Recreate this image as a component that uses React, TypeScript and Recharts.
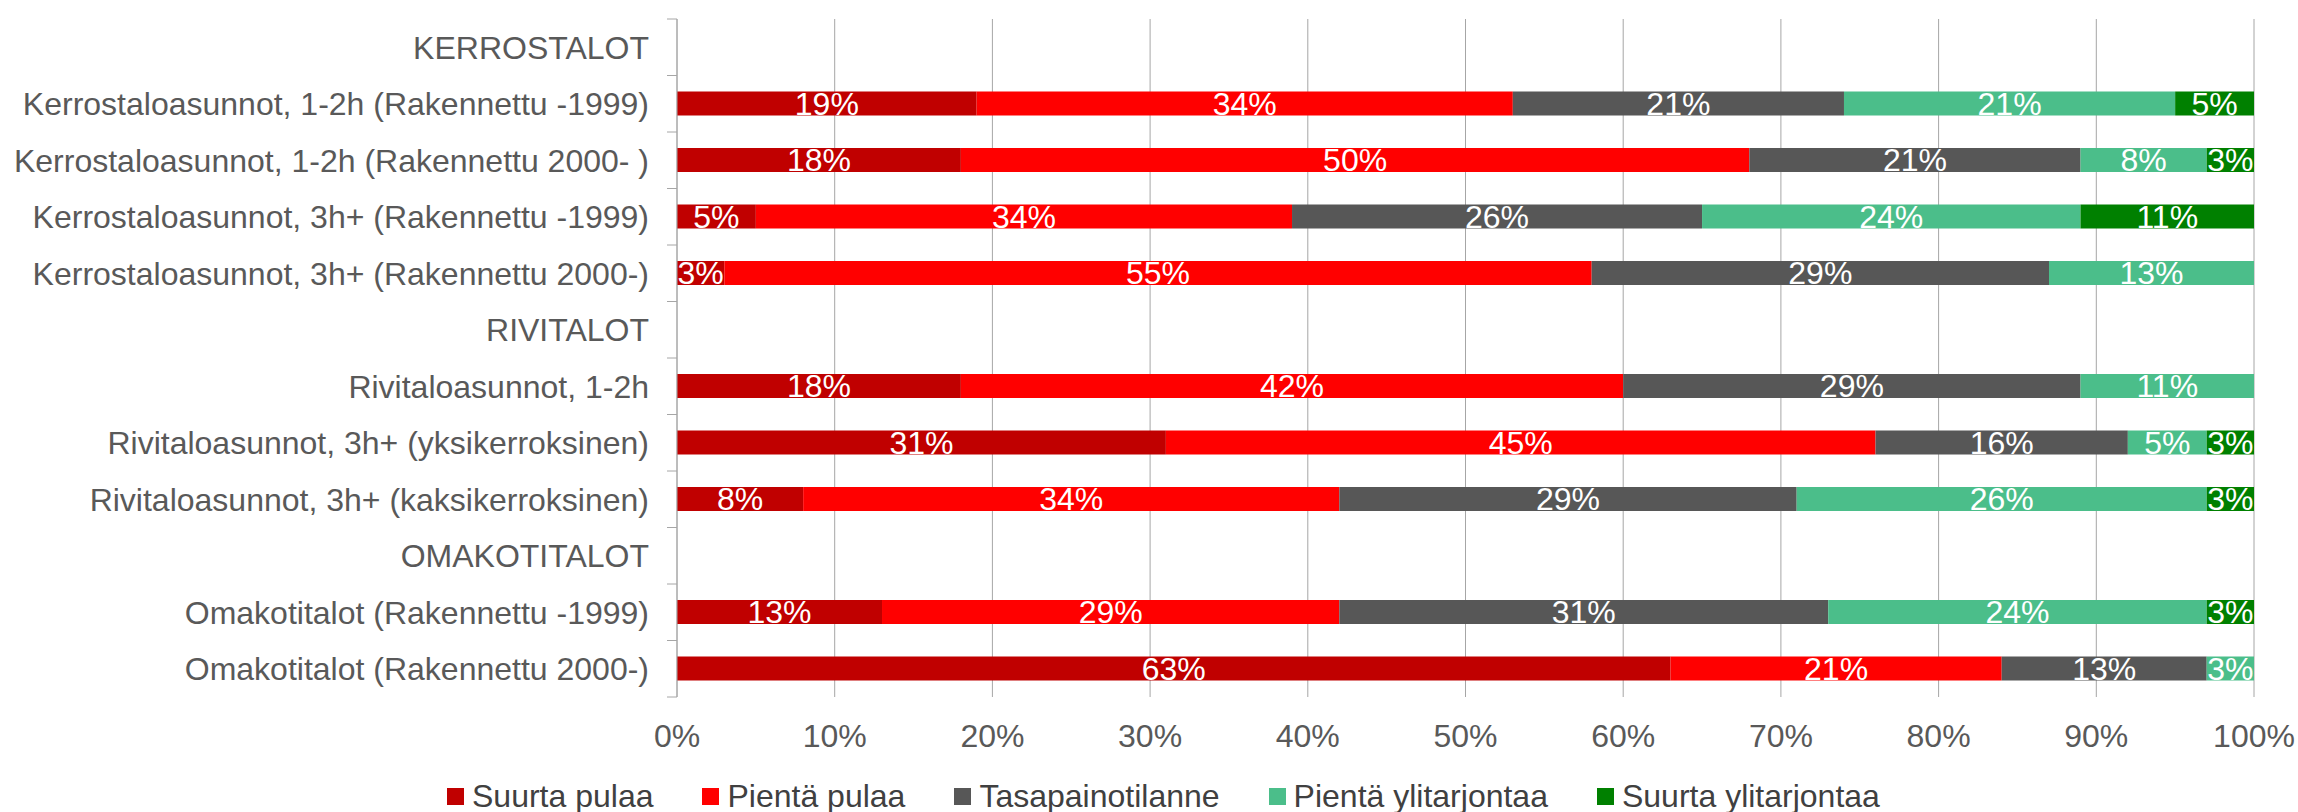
import { BarChart, Bar, XAxis, YAxis, CartesianGrid, LabelList } from "recharts";

const categories = [
  "KERROSTALOT",
  "Kerrostaloasunnot, 1-2h (Rakennettu -1999)",
  "Kerrostaloasunnot, 1-2h (Rakennettu 2000- )",
  "Kerrostaloasunnot, 3h+ (Rakennettu -1999)",
  "Kerrostaloasunnot, 3h+ (Rakennettu 2000-)",
  "RIVITALOT",
  "Rivitaloasunnot, 1-2h",
  "Rivitaloasunnot, 3h+ (yksikerroksinen)",
  "Rivitaloasunnot, 3h+ (kaksikerroksinen)",
  "OMAKOTITALOT",
  "Omakotitalot (Rakennettu -1999)",
  "Omakotitalot (Rakennettu 2000-)",
];

const suurtaPulaa = [null, 19, 18, 5, 3, null, 18, 31, 8, null, 13, 63];
const pientaPulaa = [null, 34, 50, 34, 55, null, 42, 45, 34, null, 29, 21];
const tasapaino = [null, 21, 21, 26, 29, null, 29, 16, 29, null, 31, 13];
const pientaYli = [null, 21, 8, 24, 13, null, 11, 5, 26, null, 24, 3];
const suurtaYli = [null, 5, 3, 11, 0, null, 0, 3, 3, null, 3, 0];

const xTicks = [0, 10, 20, 30, 40, 50, 60, 70, 80, 90, 100];

const series = [
  { key: "s1", name: "Suurta pulaa", color: "#C00000", values: suurtaPulaa },
  { key: "s2", name: "Pientä pulaa", color: "#FF0000", values: pientaPulaa },
  { key: "s3", name: "Tasapainotilanne", color: "#575757", values: tasapaino },
  { key: "s4", name: "Pientä ylitarjontaa", color: "#4BBE8A", values: pientaYli },
  { key: "s5", name: "Suurta ylitarjontaa", color: "#008000", values: suurtaYli },
];

const data = categories.map((name, i) => {
  const row: Record<string, string | number | null> = { name };
  series.forEach((s) => { row[s.key] = s.values[i]; });
  return row;
});

const W = 2298;
const H = 812;
const TOP = 19;
const BOTTOM = 115;
const AXIS_W = 677;
const BAND = (H - TOP - BOTTOM) / categories.length;
const FONT = "'Liberation Sans', Arial, sans-serif";
const FS = 32;

// eslint-disable-next-line @typescript-eslint/no-explicit-any
function CategoryTick({ x, y, payload, index }: any) {
  const axisX = x + 28;
  return (
    <g>
      <text x={x} y={y} dy="0.36em" textAnchor="end" fill="#595959" fontSize={FS}>
        {payload.value}
      </text>
      <line x1={axisX - 10} x2={axisX} y1={y - BAND / 2} y2={y - BAND / 2} stroke="#A6A6A6" />
      {index === categories.length - 1 && (
        <line x1={axisX - 10} x2={axisX} y1={y + BAND / 2} y2={y + BAND / 2} stroke="#A6A6A6" />
      )}
    </g>
  );
}

const pct = (v: unknown) => (v ? `${v}%` : "");

export default function App() {
  return (
    <div style={{ position: "absolute", left: 0, top: 0, width: W, height: H, fontFamily: FONT, background: "#fff" }}>
      <BarChart
        width={W}
        height={H}
        data={data}
        layout="vertical"
        margin={{ top: TOP, right: 44, bottom: 0, left: 0 }}
        barSize={24}
      >
        <CartesianGrid horizontal={false} vertical stroke="#A6A6A6" />
        <XAxis
          type="number"
          domain={[0, 100]}
          ticks={xTicks}
          tickFormatter={(v) => `${v}%`}
          axisLine={false}
          tickLine={false}
          tickSize={0}
          tickMargin={27}
          height={BOTTOM}
          tick={{ fill: "#595959", fontSize: FS }}
          interval={0}
        />
        <YAxis
          type="category"
          dataKey="name"
          width={AXIS_W}
          axisLine={{ stroke: "#A6A6A6" }}
          tickLine={false}
          tickSize={0}
          tickMargin={28}
          tick={<CategoryTick />}
          interval={0}
        />
        {series.map((s) => (
          <Bar key={s.key} dataKey={s.key} name={s.name} stackId="a" fill={s.color} isAnimationActive={false}>
            <LabelList dataKey={s.key} position="center" formatter={pct} fill="#fff" fontSize={FS} />
          </Bar>
        ))}
      </BarChart>
      <div
        style={{
          position: "absolute",
          left: 447,
          top: 778,
          display: "flex",
          gap: 49,
          fontSize: FS,
          color: "#404040",
          lineHeight: "36px",
          whiteSpace: "nowrap",
        }}
      >
        {series.map((s) => (
          <div key={s.key} style={{ display: "flex", alignItems: "center", gap: 8 }}>
            <div style={{ width: 17, height: 17, background: s.color }} />
            <span>{s.name}</span>
          </div>
        ))}
      </div>
    </div>
  );
}
